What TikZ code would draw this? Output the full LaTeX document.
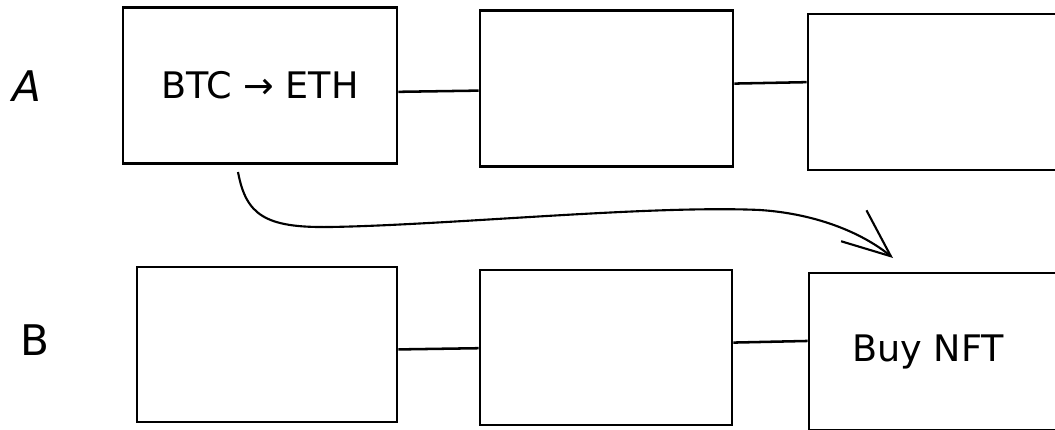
\documentclass[tikz,border=0pt]{standalone}
\usepackage{fontspec}
\setmainfont{DejaVu Sans}
\usepackage{tikz}
\usetikzlibrary{arrows.meta}

\begin{document}
\begin{tikzpicture}[x=0.025cm, y=-0.025cm,
    box/.style={draw, rectangle, line width=1.8pt, inner sep=0pt, minimum height=3.9cm},
    link/.style={line width=1.8pt},
    txt/.style={font=\fontsize{26}{30}\selectfont},
    row/.style={font=\fontsize{30}{34}\selectfont}]
    \useasboundingbox (0,0) rectangle (1055,429);
    \node[row] (la) at (27,86) {\textit{A}};
    \node[row] (lb) at (35,340) {B};
    \node[box, minimum width=6.85cm, txt] (a1) at (260,85.5) {BTC → ETH};
    \node[box, minimum width=6.33cm] (a2) at (606.5,88.5) {};
    \node[box, minimum width=6.6cm] (a3) at (940,92) {};
    \node[box, minimum width=6.5cm, minimum height=3.875cm] (b1) at (267,344.5) {};
    \node[box, minimum width=6.3cm, minimum height=3.875cm] (b2) at (606,347.5) {};
    \node[box, minimum width=6.6cm, minimum height=3.925cm] (b3) at (941,351.5) {};
    \node[txt] (nft) at (928,352) {Buy NFT};
    \draw[link] ([yshift=-4.5]a1.east) -- ([yshift=-1.5]a2.west);
    \draw[link] ([yshift=3.5]a2.east) -- ([yshift=7]a3.west);
    \draw[link] ([yshift=-3.5]b1.east) -- ([yshift=-0.5]b2.west);
    \draw[link] ([yshift=3.5]b2.east) -- ([yshift=7.5]b3.west);
    \coordinate (from) at (238,172);
    \coordinate (to) at (893,258);
    \draw[line width=1.5pt, -{Straight Barb[length=12mm, width=10mm, line width=1.5pt]}]
        (from) .. controls (246,215) and (265,228) .. (330,227)
        .. controls (450,225) and (650,205) .. (760,210)
        .. controls (820,214) and (865,235) .. (to);
\end{tikzpicture}
\end{document}
